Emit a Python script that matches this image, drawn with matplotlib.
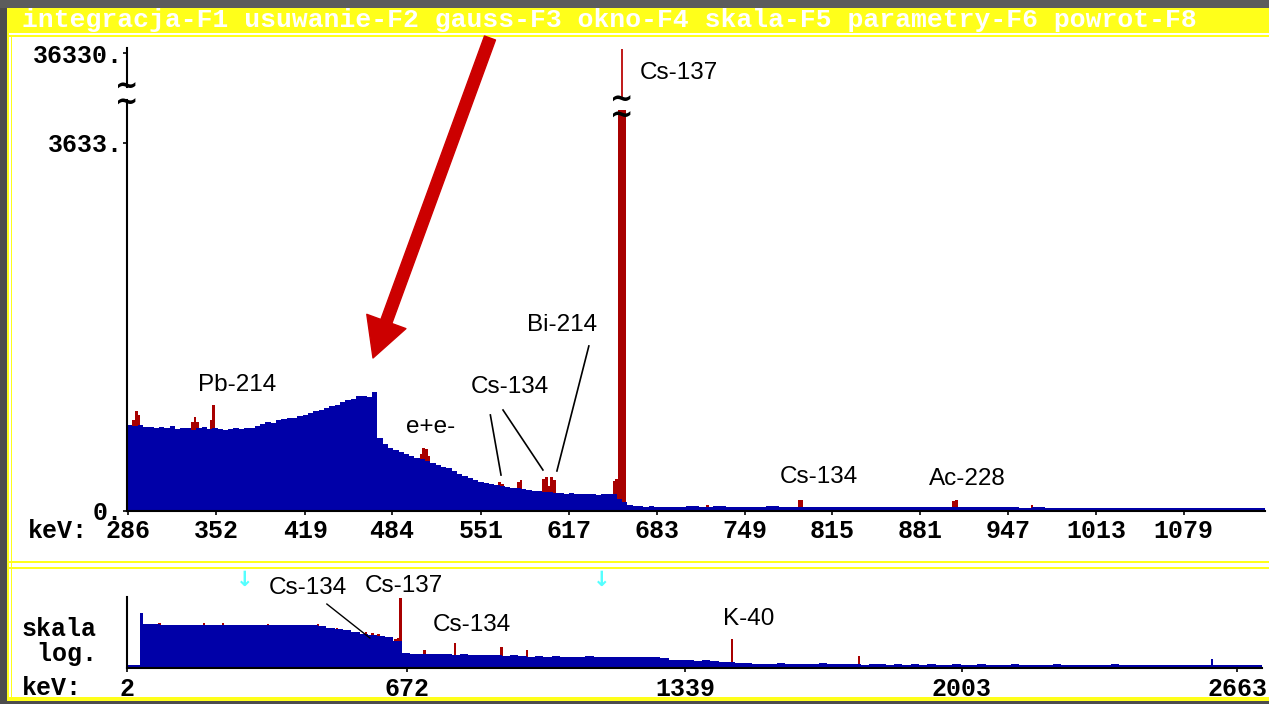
import numpy as np
import matplotlib
matplotlib.use("Agg")
import matplotlib.pyplot as plt
from matplotlib.patches import Rectangle

W, H = 1269, 704

BLUE = "#0000a8"
RED = "#a80000"
YELLOW = "#ffff1a"
CYAN = "#55ffff"
MONO = "Liberation Mono"
SANS = "Liberation Sans"

# ---- okno: widmo liniowe (4 keV do 705 keV, dalej po 10 keV) ----
win_edges = np.concatenate([np.arange(285, 706, 4), np.arange(715, 1146, 10)])
win_counts = [
    850, 840, 845, 825, 830, 815, 825, 820, 835, 810,
    820, 815, 800, 815, 825, 810, 820, 805, 800, 810,
    815, 805, 820, 815, 835, 860, 880, 870, 900, 905,
    920, 915, 935, 950, 965, 985, 1000, 1015, 1040, 1050,
    1075, 1095, 1110, 1140, 1135, 1130, 1175, 720, 660, 625,
    605, 585, 560, 545, 525, 510, 495, 470, 455, 435,
    420, 395, 370, 350, 330, 305, 290, 275, 262, 255,
    245, 238, 230, 225, 215, 210, 200, 195, 192, 188,
    180, 178, 172, 175, 168, 170, 165, 168, 160, 163,
    165, 170, 120, 85, 60, 48, 45, 42, 45, 40,
    43, 40, 44, 38, 42,
    45, 42, 46, 44, 40, 43, 45, 41, 44, 42,
    40, 43, 41, 44, 40, 39, 41, 38, 40, 37,
    39, 36, 38, 35, 37, 34, 36, 33, 32, 34,
    31, 33, 30, 32, 31, 29, 32, 30, 28, 31,
    29, 30, 28, 27,
]

# kanaly pikow (czerwone)
pk_kev = [290, 292, 294, 334, 336, 338, 348, 350, 506, 508, 510, 512,
          565, 567, 579, 581, 598, 600, 602, 604, 606,
          651, 653, 655, 657, 659, 721, 790, 792, 906, 908, 965]
pk_top = [900, 990, 950, 880, 930, 880, 900, 1050, 560, 626, 610, 540,
          283, 270, 290, 309, 320, 332, 250, 332, 310,
          300, 320, 25000, 39000, 20000, 60, 105, 110, 100, 110, 60]

win_ticks = [286, 352, 419, 484, 551, 617, 683, 749, 815, 881, 947, 1013, 1079]

win_labels = ["Pb-214", "e+e-", "Cs-134", "Bi-214", "Cs-137", "Cs-134", "Ac-228"]
win_lab_x = [368, 513, 573, 612, 700, 805, 916]
win_lab_y = [1244, 829, 1224, 1836, 23200, 336, 316]
win_leaders = [((558, 948), (566, 355)),
               ((567.5, 997), (597.5, 405)),
               ((632, 1629), (608, 395))]

# ---- cale widmo, skala logarytmiczna (kanaly po 20 keV) ----
full_edges = np.arange(0, 2741, 20)
full_counts = [
    1.6, 1.6,
    700, 680, 640, 620, 630, 610, 620, 600, 610, 590,
    600, 580, 590, 580, 570, 580, 570, 575, 580, 590, 600,
    520, 400, 330, 270, 215, 170, 140, 120, 95, 60,
    9, 8.5, 8, 8.5, 7.5, 8, 7, 7.5, 7, 6.5,
    7, 6.5, 6, 6.5, 6, 5.5, 6, 5.5, 6, 5.5,
    5, 5.5, 6, 5, 5.5, 5, 5.5,
    5, 4.8, 5.2, 5.5, 4.2, 3.5, 3.2, 3.4, 3, 3.2,
    2.8, 2.6, 2.3, 2.1, 2,
    1.8, 1.7, 1.8, 2.2, 1.7, 1.8, 1.7, 1.7, 2.0, 1.7,
    1.8, 1.7, 1.7, 1.6, 1.7, 1.7, 1.6, 1.7, 1.6, 1.7,
    1.6, 1.7, 1.6, 1.6, 1.7, 1.6, 1.6, 1.7, 1.6, 1.6,
    1.6, 1.7, 1.6, 1.6, 1.6, 1.6, 1.7, 1.6, 1.6, 1.6,
    1.6, 1.6, 1.6, 1.7, 1.6, 1.6, 1.6, 1.6, 1.6, 1.6,
    1.6, 1.6, 1.6, 1.6, 1.6, 1.6, 1.6, 1.6, 1.6, 1.6,
    1.6, 1.6,
]
full_pk_kev = [80, 186, 232, 340, 460, 505, 575, 590, 605, 646, 651, 657,
               715, 788, 900, 960, 1452, 1756]
full_pk_top = [820, 770, 820, 700, 720, 400, 200, 190, 170, 80, 85, 34600,
               14.7, 42, 23, 14.7, 76, 5.5]
full_bl_kev = [37, 2602]
full_bl_top = [3700, 3.8]

full_ticks = [2, 672, 1339, 2003, 2663]
full_labels = ["Cs-134", "Cs-137", "Cs-134", "K-40"]
full_lab_x = [436, 666, 829, 1492]
full_lab_y = [1.5e5, 2.0e5, 612, 1500]
full_leaders = [((481, 14000), (584, 88))]

menu = "integracja-F1 usuwanie-F2 gauss-F3 okno-F4 skala-F5 parametry-F6 powrot-F8"

plt.rcParams["font.family"] = MONO
plt.rcParams["font.weight"] = "bold"


def fx(x):
    return x / W


def fy(y):
    return 1 - y / H


def box(fig, x0, y0, x1, y1, color):
    fig.add_artist(Rectangle((fx(x0), fy(y1)), (x1 - x0) / W, (y1 - y0) / H,
                             transform=fig.transFigure, color=color, lw=0, zorder=-10))


# os Y okna: liniowo do 4057, przerwa, potem sciesniona gora
V_LO, V_HI = 4057, 14000
_v = [-1e5, 0, V_LO, V_HI, 1e7]
_u = [-1e5 / 9.87, 0, 411, 424, 424 + (1e7 - V_HI) / 657]


def fwd(v):
    return np.interp(v, _v, _u)


def inv(u):
    return np.interp(u, _u, _v)


def breaks(ax, x, y, **kw):
    # podwojna tylda w miejscu przerwania osi
    ax.text(x, y, "~\n~", ha="center", va="center", fontsize=20, linespacing=0.45,
            fontfamily="DejaVu Sans", fontweight="bold", clip_on=False, **kw)


fig = plt.figure(figsize=(W / 100, H / 100), dpi=100)
fig.patch.set_facecolor("#4d4d4d")

# ramki w stylu DOS
box(fig, 0, 0, W, 8, "#5c5c5c")
box(fig, 7, 8, W, 701, YELLOW)
box(fig, 9, 33, W, 699, "white")
box(fig, 9, 35, W, 37, YELLOW)
box(fig, 11, 37, 12, 699, YELLOW)
box(fig, 9, 561, W, 563, YELLOW)
box(fig, 9, 567, W, 569, YELLOW)
box(fig, 9, 697, W, 699, YELLOW)
fig.text(fx(22), fy(20.5), menu, color="white", fontsize=19, fontfamily=MONO,
         fontweight="bold", va="center", ha="left")

# ---------------- okno (gorny wykres) ----------------
ax1 = fig.add_axes([fx(127), fy(511), 1138 / W, 463 / H])
ax1.set_facecolor("none")
ax1.set_yscale("function", functions=(fwd, inv))
y_top = inv(463)

PEAK_CUT = 3958
PEAK_GAP = 5587
ax1.bar(pk_kev, np.minimum(pk_top, PEAK_CUT), width=2, color=RED, lw=0, zorder=1)
ax1.stairs(win_counts, win_edges, fill=True, color=BLUE, lw=0, zorder=2)
i_max = int(np.argmax(pk_top))
ax1.vlines(pk_kev[i_max], PEAK_GAP, pk_top[i_max], color="#c01818", lw=1.4, zorder=3)
breaks(ax1, pk_kev[i_max], inv(403), zorder=4)

ax1.set_xlim(285, 1140)
ax1.set_ylim(0, y_top)
ax1.set_xticks(win_ticks)
ax1.set_xticklabels([str(t) for t in win_ticks])
ax1.set_yticks([0, 3633, 36330])
ax1.set_yticklabels(["0.", "3633.", "36330."])
ax1.tick_params(axis="both", direction="out", length=3, width=1.2, labelsize=18,
                colors="black")
ax1.tick_params(axis="x", pad=3)
ax1.tick_params(axis="y", pad=0)
for s in ("top", "right"):
    ax1.spines[s].set_visible(False)
for s in ("left", "bottom"):
    ax1.spines[s].set_linewidth(1.5)
ax1.spines["left"].set_bounds(0, V_LO)
ax1.plot([285, 285], [V_HI, y_top], color="black", lw=1.5, clip_on=False)
breaks(ax1, 285, inv(416))

for txt, x, y in zip(win_labels, win_lab_x, win_lab_y):
    ax1.text(x, y, txt, ha="center", va="center", fontsize=17.5,
             fontfamily=SANS, fontweight="normal")
for (x0, y0), (x1, y1) in win_leaders:
    ax1.plot([x0, x1], [y0, y1], color="black", lw=1.2)

fig.text(fx(28), fy(531), "keV:", fontsize=18, va="center", ha="left")

# strzalka
ax1.annotate("", xy=(373, H - 358), xytext=(490, H - 38), xycoords="figure pixels",
             textcoords="figure pixels", annotation_clip=False,
             arrowprops=dict(arrowstyle="simple,head_length=1.4,head_width=1.5,tail_width=0.42",
                             color="#cc0000", mutation_scale=20, shrinkA=0, shrinkB=0))

# ---------------- cale widmo (dolny wykres) ----------------
ax2 = fig.add_axes([fx(127), fy(668), 1135 / W, 71 / H])
ax2.set_facecolor("none")
ax2.set_yscale("log")
ax2.bar(full_pk_kev, full_pk_top, width=6, bottom=0.1, color=RED, lw=0, zorder=1)
ax2.stairs(full_counts, full_edges, fill=True, baseline=0.1, color=BLUE, lw=0, zorder=2)
ax2.bar(full_bl_kev, full_bl_top, width=6, bottom=0.1, color=BLUE, lw=0, zorder=2)
ax2.set_xlim(2, 2722)
ax2.set_ylim(1, 40000)
ax2.set_xticks(full_ticks)
ax2.set_xticklabels([str(t) for t in full_ticks])
ax2.set_yticks([])
ax2.minorticks_off()
ax2.tick_params(axis="x", direction="out", length=3, width=1.2, labelsize=18, pad=3.5)
for s in ("top", "right"):
    ax2.spines[s].set_visible(False)
for s in ("left", "bottom"):
    ax2.spines[s].set_linewidth(1.5)

for txt, x, y in zip(full_labels, full_lab_x, full_lab_y):
    ax2.text(x, y, txt, ha="center", va="center", fontsize=17.5,
             fontfamily=SANS, fontweight="normal")
for (x0, y0), (x1, y1) in full_leaders:
    ax2.plot([x0, x1], [y0, y1], color="black", lw=1.0, clip_on=False)

# granice okna zaznaczone na calym widmie
for xv in ax1.get_xlim():
    ax2.text(xv, 1.24, "\u2193", transform=ax2.get_xaxis_transform(), color=CYAN,
             fontsize=15, fontfamily="DejaVu Sans", fontweight="bold",
             ha="center", va="center")

fig.text(fx(22), fy(641.5), "skala\n log.", fontsize=18, va="center", ha="left",
         linespacing=1.05)
fig.text(fx(22), fy(688), "keV:", fontsize=18, va="center", ha="left")

fig.savefig("out.png", dpi=100, facecolor=fig.get_facecolor())
plt.close(fig)
